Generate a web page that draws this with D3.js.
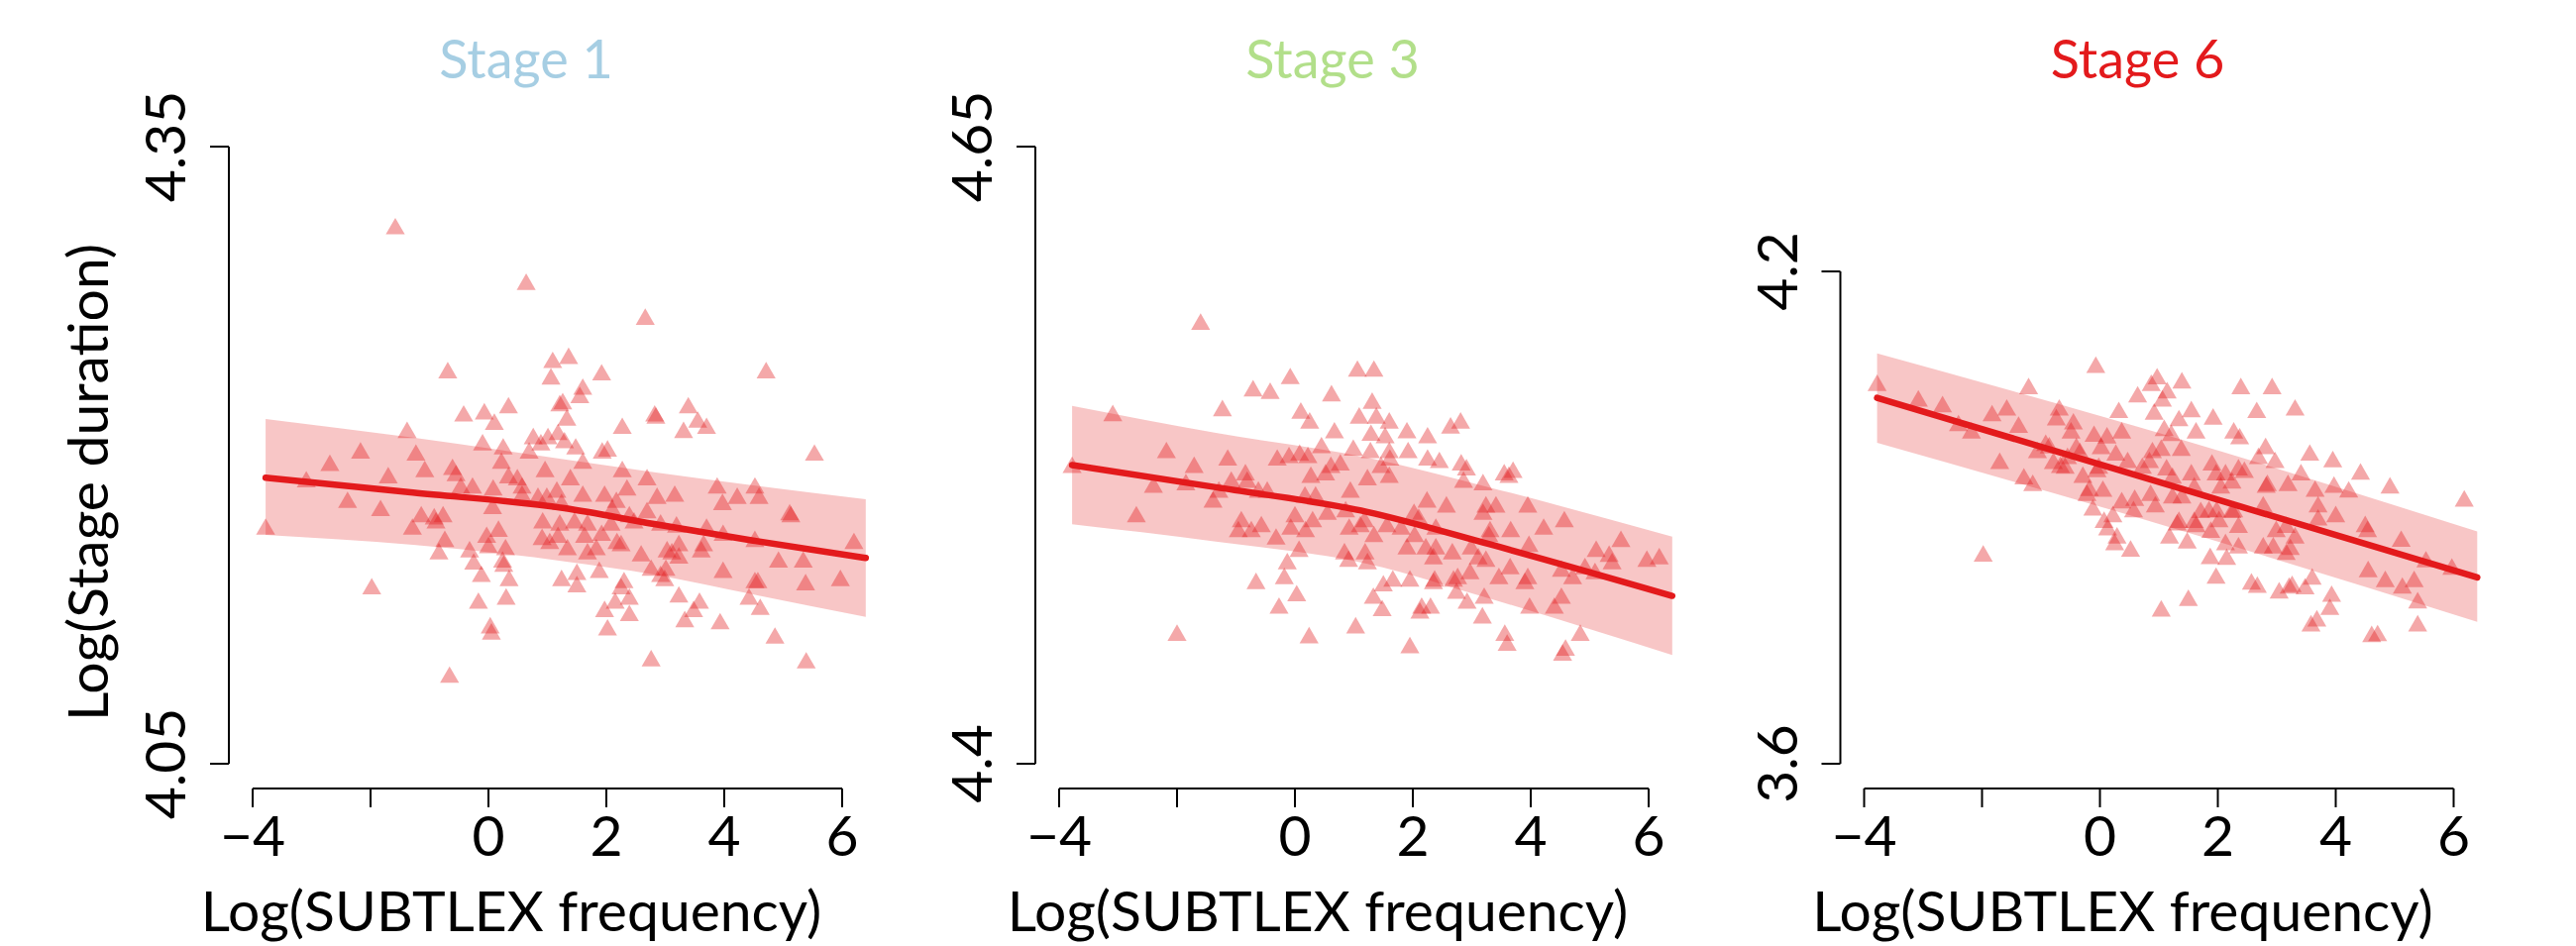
<!DOCTYPE html>
<html>
<head>
<meta charset="utf-8">
<script src="https://cdnjs.cloudflare.com/ajax/libs/d3/7.8.5/d3.min.js"></script>
<style>
  body { margin: 0; background: #fff; }
  svg text { font-family: Lato, "Open Sans", sans-serif; }
</style>
</head>
<body>
<div id="chart"></div>
<script>
// Chart size
const width = 2600,
      height = 955;

// Panel titles and their colours
const stageNames = ["Stage 1", "Stage 3", "Stage 6"];
const stageColors = ["#a6cee3", "#b2df8a", "#e31a1c"];

// Axis ticks
const xTicks = [-4, -2, 0, 2, 4, 6];
const xTickLabels = ["\u22124", "", "0", "2", "4", "6"];
const yTicks = [[4.05, 4.35], [4.4, 4.65], [3.6, 4.2]];
const yTickLabels = [["4.05", "4.35"], ["4.4", "4.65"], ["3.6", "4.2"]];

// Points [log frequency, log stage duration]
const stage1Points = [
  [-1.58,4.310],[0.64,4.283],[-0.69,4.240],[1.09,4.245],[1.06,4.237],[-0.42,4.219],[-0.07,4.220],[0.34,4.223],[0.10,4.215],[-1.38,4.211],
  [-2.17,4.201],[-2.69,4.195],[-3.09,4.187],[-1.70,4.189],[-1.23,4.200],[-1.08,4.192],[-2.39,4.177],[-1.83,4.173],[-3.78,4.164],[-1.29,4.164],
  [-1.14,4.170],[-0.92,4.169],[-0.77,4.170],[-0.89,4.167],[-0.61,4.193],[-0.55,4.190],[-0.47,4.184],[-0.27,4.184],[-0.10,4.205],[0.25,4.203],
  [0.22,4.196],[0.69,4.201],[0.76,4.208],[0.89,4.205],[1.01,4.208],[1.18,4.210],[0.08,4.183],[0.07,4.174],[0.34,4.189],[0.49,4.188],
  [0.57,4.184],[0.57,4.180],[0.96,4.192],[0.84,4.179],[0.99,4.179],[1.16,4.182],[0.92,4.167],[0.91,4.159],[1.04,4.157],[1.18,4.160],
  [-0.74,4.158],[-0.84,4.152],[-0.03,4.160],[0.17,4.163],[0.00,4.155],[0.29,4.154],[-0.32,4.153],[-0.25,4.147],[0.24,4.148],[0.26,4.146],
  [-0.12,4.141],[0.35,4.139],[0.30,4.130],[-0.17,4.128],[0.03,4.116],[0.05,4.113],[-1.98,4.135],[-0.66,4.092],[1.24,4.139],[1.21,4.224],
  [2.66,4.266],[1.36,4.247],[1.92,4.239],[4.71,4.240],[1.60,4.232],[1.55,4.228],[1.26,4.225],[1.33,4.217],[2.27,4.213],[2.82,4.219],
  [2.84,4.218],[3.39,4.223],[3.55,4.216],[3.31,4.211],[3.70,4.213],[5.53,4.200],[1.48,4.203],[1.60,4.196],[1.93,4.201],[2.02,4.202],
  [1.29,4.206],[2.27,4.192],[2.69,4.188],[1.39,4.188],[1.60,4.180],[1.97,4.180],[2.17,4.177],[2.35,4.183],[2.86,4.179],[3.16,4.180],
  [3.88,4.184],[4.22,4.179],[3.97,4.176],[4.52,4.184],[4.59,4.179],[5.11,4.171],[5.13,4.170],[1.24,4.176],[1.21,4.166],[1.46,4.167],
  [1.68,4.166],[2.08,4.166],[2.10,4.173],[2.39,4.170],[2.47,4.167],[2.69,4.172],[2.92,4.166],[3.19,4.165],[3.70,4.164],[3.98,4.161],
  [4.52,4.158],[6.20,4.157],[1.34,4.154],[1.63,4.160],[1.92,4.161],[1.83,4.154],[1.68,4.152],[2.18,4.157],[2.25,4.156],[2.59,4.151],
  [3.03,4.153],[3.23,4.156],[3.23,4.150],[3.11,4.152],[3.61,4.153],[3.65,4.156],[4.92,4.148],[5.34,4.148],[3.98,4.143],[2.76,4.144],
  [3.01,4.144],[2.92,4.141],[2.99,4.139],[1.88,4.143],[1.50,4.142],[1.50,4.136],[2.30,4.138],[2.25,4.135],[2.39,4.130],[2.15,4.128],
  [1.97,4.124],[2.39,4.122],[2.02,4.115],[3.23,4.131],[3.58,4.128],[3.48,4.124],[3.33,4.119],[3.93,4.118],[4.42,4.130],[4.61,4.125],
  [4.52,4.138],[4.57,4.138],[5.38,4.137],[5.97,4.139],[4.86,4.111],[2.76,4.100],[5.39,4.099]
];

const stage3Points = [
  [-1.60,4.578],[-0.08,4.556],[1.06,4.559],[-0.71,4.551],[-0.42,4.550],[0.62,4.549],[-1.23,4.543],[-3.09,4.541],[0.10,4.542],[0.25,4.538],
  [1.09,4.540],[0.67,4.534],[0.45,4.528],[0.99,4.527],[-2.18,4.526],[-1.14,4.523],[-0.30,4.523],[-0.10,4.524],[0.08,4.525],[0.22,4.524],
  [0.61,4.520],[0.77,4.521],[-3.78,4.520],[-1.71,4.520],[-0.84,4.517],[0.52,4.517],[0.27,4.516],[-2.40,4.512],[-1.85,4.513],[-1.08,4.514],
  [-0.81,4.514],[-0.62,4.510],[-0.47,4.510],[-1.29,4.510],[-1.39,4.506],[0.17,4.508],[0.35,4.508],[0.94,4.510],[-2.69,4.500],[-0.91,4.498],
  [-0.57,4.496],[0.00,4.500],[0.30,4.498],[0.55,4.501],[0.86,4.502],[-0.96,4.494],[-0.74,4.494],[-0.07,4.495],[0.18,4.494],[-0.32,4.491],
  [0.92,4.495],[1.11,4.496],[0.07,4.486],[0.84,4.485],[0.91,4.482],[-0.13,4.481],[-0.18,4.475],[-0.66,4.473],[0.03,4.468],[-0.27,4.463],
  [-2.00,4.452],[0.24,4.451],[1.03,4.455],
  [1.34,4.559],[1.31,4.546],[1.38,4.540],[1.60,4.538],[1.90,4.534],[1.29,4.533],[1.53,4.532],[2.25,4.532],[2.64,4.536],[2.81,4.538],
  [1.60,4.526],[1.92,4.526],[1.28,4.526],[1.61,4.523],[2.25,4.523],[2.45,4.522],[2.82,4.521],[2.91,4.519],[1.46,4.520],[1.23,4.515],
  [1.60,4.516],[2.86,4.514],[3.19,4.513],[3.55,4.517],[3.70,4.518],[3.63,4.516],[2.24,4.506],[2.57,4.504],[3.24,4.504],[3.41,4.504],
  [3.19,4.501],[3.95,4.504],[4.57,4.498],[2.02,4.501],[2.10,4.499],[1.80,4.495],[1.56,4.496],[1.18,4.498],[1.34,4.492],[2.39,4.495],
  [3.31,4.494],[3.66,4.494],[4.22,4.495],[1.90,4.487],[2.03,4.492],[2.22,4.487],[2.39,4.487],[2.35,4.483],[2.67,4.485],[2.99,4.487],
  [3.11,4.483],[3.24,4.482],[3.29,4.492],[3.97,4.488],[1.19,4.485],[1.23,4.481],[2.97,4.477],[3.46,4.475],[3.65,4.479],[3.90,4.473],
  [3.95,4.475],[4.52,4.478],[4.71,4.475],[4.92,4.479],[5.11,4.486],[5.09,4.477],[5.33,4.484],[5.38,4.481],[5.53,4.490],[5.97,4.482],
  [6.18,4.483],[1.66,4.474],[1.50,4.472],[1.95,4.474],[2.37,4.474],[2.35,4.473],[2.69,4.474],[2.76,4.475],[2.74,4.469],[2.92,4.465],
  [3.21,4.467],[1.33,4.467],[1.48,4.462],[2.15,4.463],[2.30,4.463],[2.12,4.461],[3.18,4.459],[3.98,4.463],[4.40,4.463],[4.52,4.467],
  [3.56,4.452],[3.60,4.448],[4.84,4.452],[1.95,4.447],[4.59,4.446],[4.54,4.444]
];

const stage6Points = [
  [-0.07,4.083],[-3.78,4.061],[-1.21,4.057],[-3.08,4.042],[-2.67,4.035],[-1.58,4.031],[-1.83,4.024],[-0.69,4.031],[-0.74,4.019],[-2.40,4.012],
  [-2.18,4.003],[-1.38,4.010],[-0.45,4.014],[-0.49,4.003],[0.32,4.028],[0.64,4.047],[0.97,4.069],[0.87,4.061],[1.14,4.052],[1.06,4.042],
  [0.92,4.026],[0.37,4.003],[-0.10,3.999],[0.12,3.997],[0.02,3.984],[1.09,4.006],[1.21,4.000],[-0.92,3.988],[-1.06,3.979],[-0.86,3.985],
  [-0.40,3.984],[-0.34,3.978],[-0.55,3.972],[0.27,3.976],[0.47,3.967],[0.89,3.979],[1.04,3.982],[-0.79,3.966],[-0.67,3.961],[-0.59,3.960],
  [-0.02,3.960],[-0.05,3.956],[-1.70,3.966],[0.72,3.960],[0.84,3.967],[1.13,3.958],[-0.29,3.949],[-1.29,3.947],[-1.14,3.939],[-0.18,3.933],
  [-0.22,3.927],[0.05,3.932],[0.37,3.918],[0.59,3.921],[0.57,3.907],[0.86,3.927],[0.94,3.913],[-0.12,3.909],[0.22,3.901],[0.07,3.894],
  [0.13,3.885],[0.29,3.875],[0.25,3.867],[0.52,3.859],[1.18,3.875],[1.31,3.891],[1.23,3.924],[-1.98,3.853],[1.04,3.786],[1.23,3.948],
  [1.39,4.064],[2.39,4.057],[2.92,4.057],[3.31,4.031],[2.66,4.028],[1.92,4.020],[1.55,4.029],[1.34,4.018],[1.63,4.003],[2.27,4.003],
  [2.37,3.996],[1.38,3.982],[2.81,3.984],[2.69,3.972],[2.97,3.967],[3.56,3.976],[3.95,3.968],[4.42,3.953],[4.92,3.936],[6.18,3.920],
  [1.90,3.964],[1.55,3.952],[1.97,3.952],[2.13,3.952],[2.35,3.958],[2.45,3.955],[2.24,3.942],[2.05,3.936],[2.84,3.939],[2.82,3.937],
  [3.19,3.939],[3.41,3.952],[3.65,3.932],[3.97,3.937],[4.22,3.931],[1.39,3.924],[1.60,3.936],[3.70,3.913],[2.77,3.913],[4.00,3.901],
  [3.70,3.897],[1.71,3.906],[1.85,3.907],[1.98,3.907],[2.24,3.906],[1.34,3.894],[1.60,3.894],[1.63,3.889],[2.02,3.895],[2.27,3.907],
  [2.35,3.888],[1.88,3.882],[2.99,3.883],[3.16,3.888],[3.31,3.875],[4.50,3.889],[4.54,3.883],[5.11,3.871],[1.48,3.869],[2.13,3.867],
  [2.35,3.863],[2.77,3.863],[2.94,3.863],[3.23,3.861],[3.16,3.855],[1.87,3.850],[2.15,3.849],[4.55,3.834],[4.84,3.822],[5.13,3.814],
  [5.33,3.822],[5.53,3.846],[5.97,3.837],[1.97,3.826],[2.57,3.819],[2.67,3.815],[3.04,3.808],[3.21,3.814],[3.26,3.816],[3.48,3.813],
  [3.60,3.825],[3.93,3.804],[3.90,3.788],[5.39,3.796],[1.50,3.799],[3.58,3.768],[3.68,3.774],[4.61,3.755],[4.71,3.756],[5.39,3.768]
];

// Fitted line with confidence band: [x, fit, lower, upper]
const stage1Fit = [
  [-3.78,4.189,4.1612,4.2176],[-1.28,4.1818,4.1564,4.2085],[1.29,4.1742,4.1484,4.198],
  [2.81,4.1665,4.142,4.1917],[4.49,4.1585,4.1323,4.1853],[6.40,4.150,4.1214,4.1786]
];
const stage3Fit = [
  [-3.78,4.521,4.497,4.545],[-1.34,4.512,4.490,4.534],[1.23,4.502,4.481,4.524],
  [3.29,4.489,4.467,4.512],[6.40,4.468,4.444,4.492]
];
const stage6Fit = [
  [-3.78,4.046,3.991,4.100],[1.34,3.936,3.885,3.996],[6.40,3.827,3.773,3.883]
];

const allPoints = [stage1Points, stage3Points, stage6Points];
const allFits = [stage1Fit, stage3Fit, stage6Fit];

// Layout of the three panels
const axisX = [231, 1045, 1857.5];
const plotBottom = 771,
      xAxisY = 796;
const yTopPx = [148, 148, 274];

const svg = d3.select("#chart").append("svg")
    .attr("width", width)
    .attr("height", height)
    .style("background", "#fff");

const red = "#e31a1c";
const fontSize = 57;

stageNames.forEach((name, i) => {
    const g = svg.append("g");
    const x0 = axisX[i];

    const x = d3.scaleLinear()
        .domain([-4, 6])
        .range([x0 + 24, x0 + 24 + 595]);
    const y = d3.scaleLinear()
        .domain(yTicks[i])
        .range([plotBottom, yTopPx[i]]);

    // confidence band
    const area = d3.area()
        .x(d => x(d[0]))
        .y0(d => y(d[2]))
        .y1(d => y(d[3]))
        .curve(d3.curveMonotoneX);
    g.append("path")
        .datum(allFits[i])
        .attr("d", area)
        .style("fill", red)
        .style("fill-opacity", 0.25);

    // points
    const tri = d3.symbol().type(d3.symbolTriangle).size(160);
    g.selectAll(".pt")
        .data(allPoints[i])
        .enter().append("path")
        .attr("class", "pt")
        .attr("d", tri)
        .attr("transform", d => `translate(${x(d[0])},${y(d[1])})`)
        .style("fill", red)
        .style("fill-opacity", 0.38);

    // fitted line
    const line = d3.line()
        .x(d => x(d[0]))
        .y(d => y(d[1]))
        .curve(d3.curveMonotoneX);
    g.append("path")
        .datum(allFits[i])
        .attr("d", line)
        .style("fill", "none")
        .style("stroke", red)
        .style("stroke-width", 6.5)
        .style("stroke-linecap", "round");

    // x axis
    g.append("line")
        .attr("x1", x(xTicks[0])).attr("x2", x(xTicks[xTicks.length - 1]))
        .attr("y1", xAxisY).attr("y2", xAxisY)
        .style("stroke", "#000").style("stroke-width", 2);
    xTicks.forEach((t, k) => {
        g.append("line")
            .attr("x1", x(t)).attr("x2", x(t))
            .attr("y1", xAxisY).attr("y2", xAxisY + 19)
            .style("stroke", "#000").style("stroke-width", 2);
        g.append("text")
            .attr("x", x(t))
            .attr("y", 864)
            .attr("text-anchor", "middle")
            .style("font-size", fontSize + "px")
            .text(xTickLabels[k]);
    });

    // y axis
    g.append("line")
        .attr("x1", x0).attr("x2", x0)
        .attr("y1", y(yTicks[i][0])).attr("y2", y(yTicks[i][1]))
        .style("stroke", "#000").style("stroke-width", 2);
    yTicks[i].forEach((t, k) => {
        g.append("line")
            .attr("x1", x0 - 19).attr("x2", x0)
            .attr("y1", y(t)).attr("y2", y(t))
            .style("stroke", "#000").style("stroke-width", 2);
        g.append("text")
            .attr("transform", `translate(${x0 - 44},${y(t)}) rotate(-90)`)
            .attr("text-anchor", "middle")
            .style("font-size", fontSize + "px")
            .text(yTickLabels[i][k]);
    });

    // axis title
    g.append("text")
        .attr("x", x0 + 285)
        .attr("y", 940)
        .attr("text-anchor", "middle")
        .style("font-size", fontSize + "px")
        .text("Log(SUBTLEX frequency)");

    // panel title
    g.append("text")
        .attr("x", x0 + 300)
        .attr("y", 79)
        .attr("text-anchor", "middle")
        .style("font-size", "54px")
        .style("fill", stageColors[i])
        .text(name);
});

// y axis title on the first panel
svg.append("text")
    .attr("transform", "translate(109,487) rotate(-90)")
    .attr("text-anchor", "middle")
    .style("font-size", fontSize + "px")
    .text("Log(Stage duration)");
</script>
</body>
</html>
